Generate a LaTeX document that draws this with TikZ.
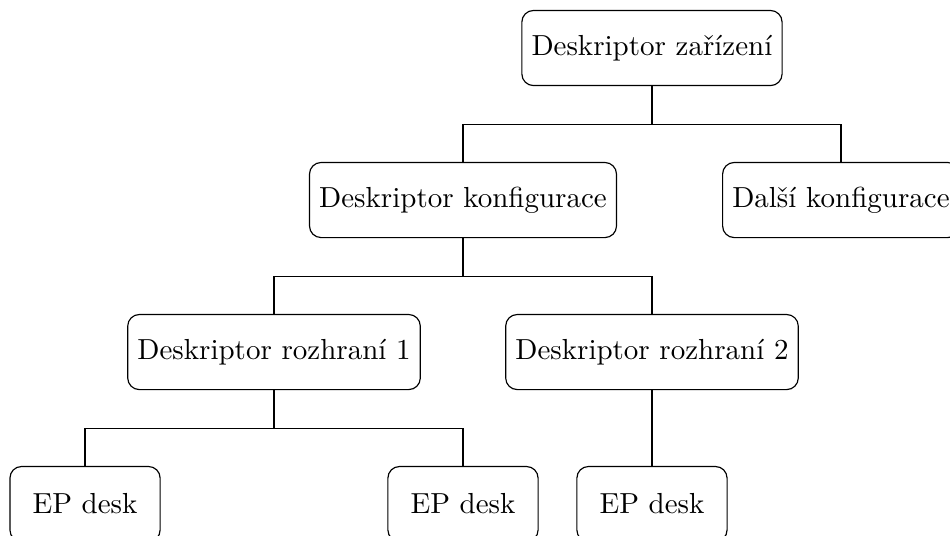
\documentclass[tikz,border=0pt]{standalone}
\usepackage{fontspec}
\tikzset{desc/.style={draw, rounded corners, minimum height=0.91cm, minimum width=1.82cm}}

\begin{document}
\begin{tikzpicture}[x=2.29cm, y=1.842cm]
  \clip (-0.45,0.316) rectangle (4.577,-3.204);
  \node[desc] (zar) at (3,0) {Deskriptor zařízení};
  \node[desc] (konf) at (2,-1) {Deskriptor konfigurace};
  \node[desc] (dalsi) at (4,-1) {Další konfigurace};
  \node[desc] (roz1) at (1,-2) {Deskriptor rozhraní 1};
  \node[desc] (roz2) at (3,-2) {Deskriptor rozhraní 2};
  \foreach \x/\n in {0/1,2/2,3/3}{
    \node[desc] (ep\n) at (\x,-3) {EP desk};
  }
  \foreach \p/\c in {zar/konf, zar/dalsi, konf/roz1, konf/roz2, roz1/ep1, roz1/ep2, roz2/ep3}{
    \draw (\p.south) -- ++(0,-0.46cm) -| (\c.north);
  }
\end{tikzpicture}
\end{document}
